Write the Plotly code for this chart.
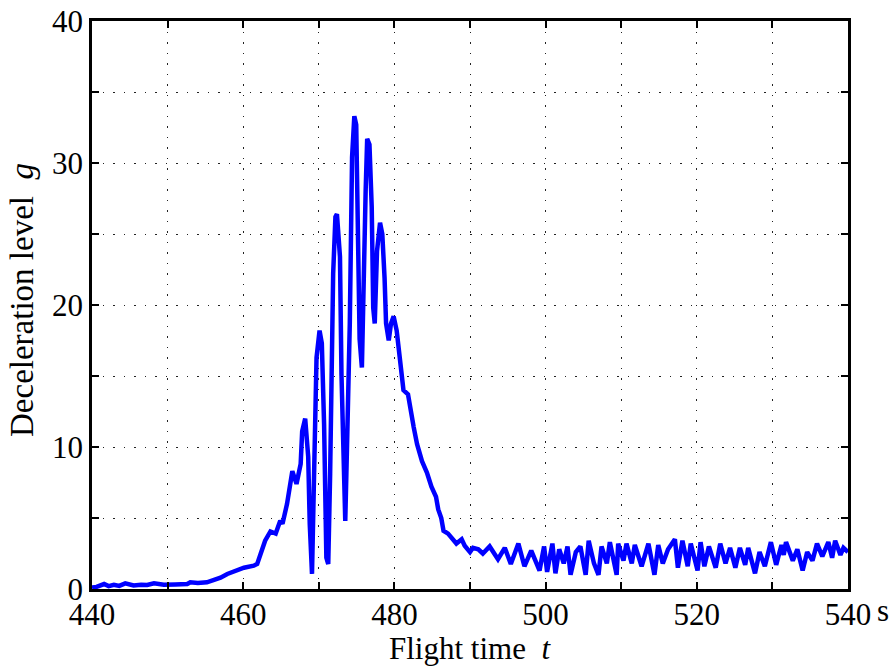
import plotly.graph_objects as go

# Flight time (s)
t = [440.0, 440.6, 441.6, 442.2, 442.9, 443.6, 444.4, 445.5, 446.5, 447.3,
     448.2, 449.5, 451.0, 452.6, 453.0, 454.0, 455.2, 456.1, 457.0, 457.9,
     458.75, 460.1, 461.4, 461.85, 462.3, 462.9, 463.6, 464.3, 464.9, 465.2,
     465.8, 466.25, 466.5, 467.05, 467.6, 467.8, 468.2, 468.6, 468.8, 469.1,
     469.3, 469.7, 470.1, 470.4, 470.7, 471.0, 471.25, 471.5, 471.9, 472.2,
     472.4, 472.8, 473.0, 473.3, 473.5, 473.7, 474.1, 474.4, 474.7, 474.95,
     475.15, 475.4, 475.7, 475.95, 476.2, 476.4, 476.7, 477.0, 477.2, 477.4,
     477.7, 478.1, 478.4, 478.7, 478.9, 479.25, 479.55, 479.9, 480.3, 480.6,
     480.9, 481.2, 481.8, 482.1, 482.55, 483.0, 483.65, 484.3, 484.9, 485.5,
     485.8, 486.2, 486.5, 487.1, 487.8, 488.2, 488.9, 489.3, 490.0, 490.4,
     491.1, 491.7, 492.6, 493.7, 494.6, 495.4, 496.4, 497.2, 498.1, 499.2,
     499.8, 500.2, 500.9, 501.3, 501.8, 502.4, 502.9, 503.3, 504.0, 504.6,
     505.3, 505.7, 506.4, 507.0, 507.4, 508.1, 508.5, 509.4, 509.6, 510.3,
     510.7, 511.4, 511.8, 512.7, 513.6, 514.4, 514.9, 515.5, 516.2, 517.1,
     517.5, 518.1, 518.8, 519.2, 520.1, 520.5, 521.0, 521.6, 522.5, 523.1,
     523.8, 524.4, 525.1, 525.7, 526.4, 526.8, 527.7, 528.3, 529.0, 529.8,
     530.5, 531.2, 531.5, 531.8, 532.7, 533.3, 534.0, 534.6, 535.3, 535.9,
     536.6, 537.4, 537.9, 538.3, 539.0, 539.4, 540.0]

# Deceleration level (g)
g = [0.1, 0.15, 0.35, 0.2, 0.3, 0.22, 0.4, 0.25, 0.3, 0.28,
     0.4, 0.3, 0.32, 0.35, 0.47, 0.42, 0.47, 0.6, 0.8, 1.06,
     1.24, 1.5, 1.64, 1.76, 2.46, 3.4, 4.05, 3.9, 4.8, 4.6,
     6.0, 7.6, 8.3, 7.4, 8.8, 11.1, 12.0, 9.3, 4.6, 1.06,
     6.9, 16.3, 18.2, 17.3, 11.6, 2.2, 1.76, 8.1, 22.2, 26.2,
     26.4, 23.4, 15.1, 6.9, 4.8, 9.3, 18.7, 30.4, 33.3, 32.7,
     26.9, 17.6, 15.6, 23.4, 28.1, 31.7, 31.3, 26.9, 19.8, 18.7,
     23.8, 25.8, 25.0, 21.9, 18.7, 17.5, 18.7, 19.2, 18.2, 16.8,
     15.6, 14.0, 13.7, 12.6, 11.4, 10.2, 9.0, 8.2, 7.2, 6.5,
     5.6, 5.0, 4.1, 3.9, 3.4, 3.2, 3.5, 3.05, 2.6, 2.9,
     2.8, 2.5, 3.0, 2.1, 2.9, 1.76, 3.2, 1.6, 2.7, 1.3,
     3.0, 1.2, 3.2, 1.1, 2.8, 1.8, 3.0, 1.0, 2.6, 3.0,
     1.0, 3.4, 1.8, 1.0, 3.0, 1.8, 3.3, 1.0, 3.2, 2.0,
     3.2, 1.8, 3.1, 1.6, 3.2, 1.0, 3.1, 1.8, 2.8, 3.5,
     1.5, 3.4, 1.6, 3.2, 1.3, 3.3, 1.6, 3.0, 1.5, 3.2,
     1.8, 2.9, 1.5, 2.9, 1.7, 2.9, 1.1, 2.6, 1.6, 3.3,
     1.7, 3.1, 2.4, 3.3, 2.0, 2.8, 1.3, 2.6, 2.0, 3.2,
     2.3, 3.3, 2.2, 3.4, 2.4, 2.9, 2.6]

x_tickvals = [440, 450, 460, 470, 480, 490, 500, 510, 520, 530, 540]
x_ticktext = ["440", "", "460", "", "480", "", "500", "", "520", "", "540"]
y_tickvals = [0, 5, 10, 15, 20, 25, 30, 35, 40]
y_ticktext = ["0", "", "10", "", "20", "", "30", "", "40"]

FONT = "Liberation Serif, Times New Roman, serif"
FS = 31

# plot area geometry (pixels)
L, R, T, B = 92, 47, 21, 77
PW = 895 - L - R
PH = 666 - T - B

fig = go.Figure()
fig.add_trace(go.Scatter(x=t, y=g, mode="lines",
                         line=dict(color="#0000FF", width=4.5),
                         showlegend=False, hoverinfo="skip"))

axis_common = dict(
    showline=True, linewidth=2.5, linecolor="black", mirror="ticks",
    ticks="inside", ticklen=7, tickwidth=2, tickcolor="black",
    showgrid=True, gridcolor="#222222", gridwidth=1, griddash="1.5px,9px",
    zeroline=False, automargin=False,
    tickfont=dict(family=FONT, size=FS, color="black"),
)

fig.update_layout(
    width=895, height=666,
    margin=dict(l=L, r=R, t=T, b=B),
    plot_bgcolor="white", paper_bgcolor="white",
    xaxis=dict(range=[440, 540], tickvals=x_tickvals, ticktext=x_ticktext,
               ticklabelstandoff=-4, **axis_common),
    yaxis=dict(range=[0, 40], tickvals=y_tickvals, ticktext=y_ticktext,
               **axis_common),
    annotations=[
        dict(text="s", x=540, xref="x", y=0, yref="paper",
             xanchor="left", yanchor="top", xshift=27, yshift=-2,
             showarrow=False,
             font=dict(family=FONT, size=FS, color="black")),
        dict(text="Flight time\u00a0\u00a0<i>t</i>", xref="paper", yref="paper",
             x=0.5, y=(T + PH - 648) / PH, xanchor="center", yanchor="middle",
             showarrow=False,
             font=dict(family=FONT, size=FS, color="black")),
        dict(text="Deceleration level\u00a0\u00a0<i>g</i>", xref="paper", yref="paper",
             x=(22 - L) / PW, y=(T + PH - 300) / PH, xanchor="center", yanchor="middle",
             textangle=-90, showarrow=False,
             font=dict(family=FONT, size=33, color="black")),
    ],
)

fig.write_html(
    "out.html",
    config={"displayModeBar": False},
    post_script="document.body.style.margin='0px';document.body.style.overflow='hidden';",
)
